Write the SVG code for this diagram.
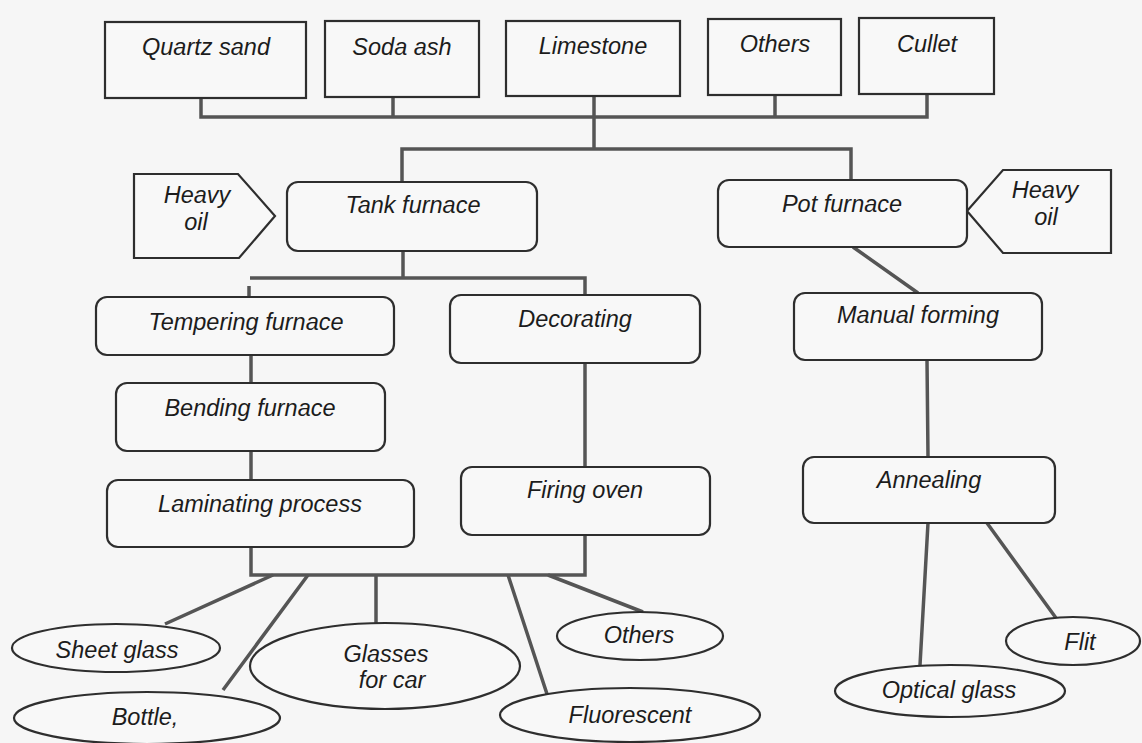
<svg xmlns="http://www.w3.org/2000/svg" width="1142" height="743" viewBox="0 0 1142 743">
<style>
.bg{fill:#f6f6f6}
.box{fill:#f8f8f8;stroke:#2e2e2e;stroke-width:2.2}
.con{fill:none;stroke:#555;stroke-width:3.5;stroke-linejoin:miter}
text{font-family:"Liberation Sans",Arial,sans-serif;font-style:italic;font-size:23.5px;fill:#1c1c1c;text-anchor:middle}
</style>
<rect class="bg" x="0" y="0" width="1142" height="743"/>
<g id="connectors">
<path class="con" d="M201,98 V117 H927 V94 M393,97 V117 M775,95 V117 M594,96 V149"/>
<path class="con" d="M402,182 V149 H851 V180"/>
<path class="con" d="M403,251 V278 M250,278 H585 V295 M249,286 V308"/>
<path class="con" d="M251,355 V383 M251,451 V480 M251,547 V575 H585 V535 M585,363 V467"/>
<path class="con" d="M853,247 L918,293 M927,360 L928,457"/>
<path class="con" d="M273,575 L165,624 M308,575 L223,690 M376,575 V623 M508,575 L547,694 M548,575 L643,612"/>
<path class="con" d="M928,523 L920,665 M987,523 L1056,618"/>
</g>
<g id="quartz-sand"><rect class="box" x="105" y="22" width="201" height="76"/><text x="206" y="55">Quartz sand</text></g>
<g id="soda-ash"><rect class="box" x="325" y="21" width="154" height="76"/><text x="402" y="55">Soda ash</text></g>
<g id="limestone"><rect class="box" x="506" y="21" width="174" height="75"/><text x="593" y="54">Limestone</text></g>
<g id="others-top"><rect class="box" x="708" y="19" width="133" height="76"/><text x="775" y="52">Others</text></g>
<g id="cullet"><rect class="box" x="859" y="18" width="135" height="76"/><text x="927" y="52">Cullet</text></g>
<g id="heavy-oil-left"><polygon class="box" points="134,174 238,174 275,216 239,258 134,258"/><text x="197" y="203">Heavy</text><text x="196" y="230">oil</text></g>
<g id="heavy-oil-right"><polygon class="box" points="1003,170 1111,170 1111,253 1003,253 967,211"/><text x="1045" y="198">Heavy</text><text x="1046" y="225">oil</text></g>
<g id="tank-furnace"><rect class="box" x="287" y="182" width="250" height="69" rx="11"/><text x="413" y="213">Tank furnace</text></g>
<g id="pot-furnace"><rect class="box" x="718" y="180" width="249" height="67" rx="11"/><text x="842" y="212">Pot furnace</text></g>
<g id="tempering-furnace"><rect class="box" x="96" y="297" width="298" height="58" rx="11"/><text x="246" y="330">Tempering furnace</text></g>
<g id="decorating"><rect class="box" x="450" y="295" width="250" height="68" rx="11"/><text x="575" y="327">Decorating</text></g>
<g id="manual-forming"><rect class="box" x="794" y="293" width="248" height="67" rx="11"/><text x="918" y="323">Manual forming</text></g>
<g id="bending-furnace"><rect class="box" x="116" y="383" width="269" height="68" rx="11"/><text x="250" y="416">Bending furnace</text></g>
<g id="laminating-process"><rect class="box" x="107" y="480" width="307" height="67" rx="11"/><text x="260" y="512">Laminating process</text></g>
<g id="firing-oven"><rect class="box" x="461" y="467" width="249" height="68" rx="11"/><text x="585" y="498">Firing oven</text></g>
<g id="annealing"><rect class="box" x="803" y="457" width="252" height="66" rx="11"/><text x="929" y="488">Annealing</text></g>
<g id="sheet-glass"><ellipse class="box" cx="116" cy="648" rx="104" ry="24"/><text x="117" y="658">Sheet glass</text></g>
<g id="bottle"><ellipse class="box" cx="147" cy="718" rx="133" ry="26"/><text x="145" y="725">Bottle,</text></g>
<g id="glasses-for-car"><ellipse class="box" cx="385" cy="666" rx="135" ry="43"/><text x="386" y="662">Glasses</text><text x="392" y="688">for car</text></g>
<g id="fluorescent"><ellipse class="box" cx="630" cy="715" rx="130" ry="27"/><text x="630" y="723">Fluorescent</text></g>
<g id="others-bottom"><ellipse class="box" cx="640" cy="636" rx="83" ry="24"/><text x="639" y="643">Others</text></g>
<g id="optical-glass"><ellipse class="box" cx="950" cy="691" rx="115" ry="26"/><text x="949" y="698">Optical glass</text></g>
<g id="flit"><ellipse class="box" cx="1073" cy="641" rx="67" ry="24"/><text x="1080" y="650">Flit</text></g>
</svg>
